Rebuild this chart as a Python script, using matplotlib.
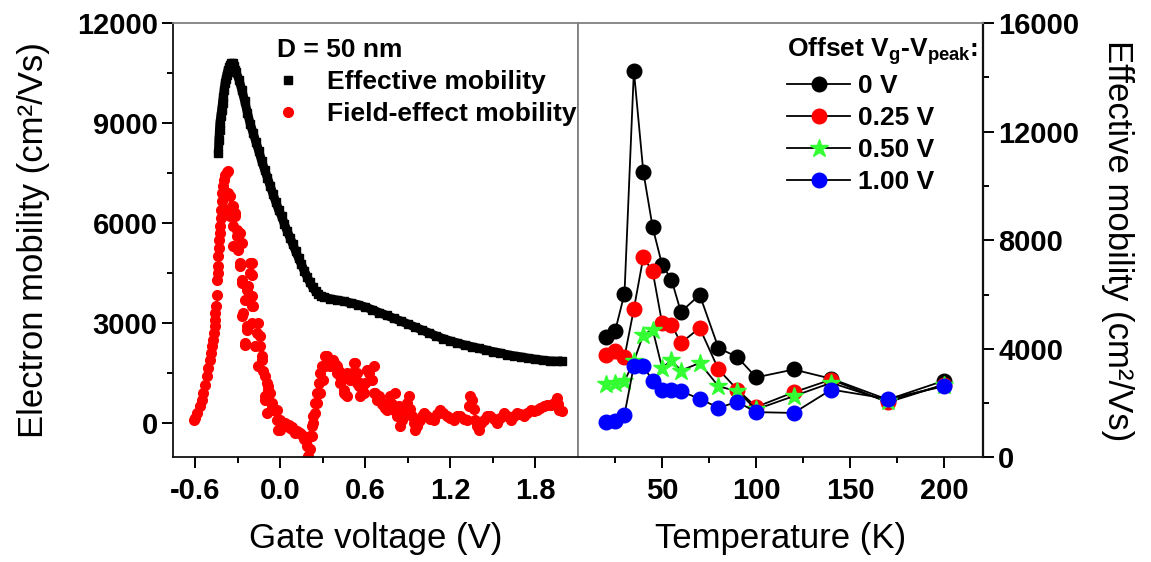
import numpy as np
import matplotlib
matplotlib.use("Agg")
import matplotlib.pyplot as plt
from matplotlib.ticker import FixedLocator

plt.rcParams['font.family'] = ['Liberation Sans', 'DejaVu Sans']
plt.rcParams['axes.unicode_minus'] = False

# left panel: mobility vs gate voltage (D = 50 nm)
eff_v = [-0.435, -0.431, -0.427, -0.424, -0.418, -0.412, -0.406, -0.400, -0.394, -0.388,
         -0.382, -0.376, -0.370, -0.365, -0.358, -0.350, -0.343, -0.336, -0.329, -0.322,
         -0.315, -0.31, -0.29, -0.27, -0.25, -0.23, -0.21, -0.19, -0.17, -0.15,
         -0.13, -0.11, -0.09, -0.07, -0.05, -0.03, -0.01, 0.01, 0.03, 0.05,
         0.07, 0.09, 0.11, 0.13, 0.15, 0.17, 0.19, 0.21, 0.23, 0.25,
         0.27, 0.29, 0.31, 0.35, 0.40, 0.45, 0.50, 0.55, 0.60, 0.65,
         0.70, 0.75, 0.80, 0.85, 0.90, 0.95, 1.00, 1.05, 1.10, 1.15,
         1.20, 1.25, 1.30, 1.35, 1.40, 1.45, 1.50, 1.55, 1.60, 1.65,
         1.70, 1.75, 1.80, 1.85, 1.90, 1.95, 1.99]
eff_mu = [8090, 8490, 8800, 8990, 9200, 9390, 9600, 9790, 10000, 10190,
          10320, 10450, 10550, 10600, 10680, 10740, 10790, 10760, 10790, 10720,
          10600, 10520, 10300, 9990, 9660, 9300, 8960, 8700, 8420, 8150,
          7860, 7600, 7360, 7110, 6860, 6620, 6380, 6200, 5960, 5750,
          5550, 5350, 5140, 4940, 4750, 4560, 4380, 4210, 4060, 3940,
          3860, 3800, 3770, 3720, 3680, 3640, 3590, 3540, 3470, 3390,
          3300, 3220, 3130, 3050, 2960, 2870, 2780, 2690, 2600, 2520,
          2450, 2390, 2330, 2280, 2230, 2180, 2130, 2090, 2040, 2000,
          1970, 1930, 1900, 1870, 1850, 1840, 1850]

fe_v = [-0.607, -0.600, -0.585, -0.565, -0.553, -0.541, -0.530, -0.518, -0.506, -0.494,
        -0.486, -0.478, -0.471, -0.464, -0.461, -0.459, -0.456, -0.454, -0.447, -0.443,
        -0.439, -0.435, -0.435, -0.431, -0.428, -0.426, -0.424, -0.420, -0.417, -0.412,
        -0.407, -0.400, -0.393, -0.385, -0.376, -0.370,
        -0.365, -0.353, -0.341, -0.376, -0.329, -0.318, -0.353, -0.318, -0.329, -0.306,
        -0.306, -0.282, -0.329, -0.294, -0.271, -0.282, -0.282, -0.200, -0.212, -0.212,
        -0.200, -0.271, -0.271, -0.224, -0.235, -0.247, -0.200, -0.200, -0.188, -0.259,
        -0.271, -0.200, -0.153, -0.235, -0.235, -0.165, -0.141, -0.247, -0.247, -0.141,
        -0.176, -0.129, -0.129, -0.153, -0.118, -0.106, -0.094, -0.082, -0.082, -0.106,
        -0.106, -0.071, -0.059, -0.059, -0.094, -0.047, -0.024, -0.024, -0.012, 0.0,
        0.0, 0.020, 0.035, 0.047, 0.060, 0.071, 0.083, 0.094, 0.106, 0.120,
        0.141, 0.153, 0.165, 0.176, 0.188, 0.188, 0.200, 0.212, 0.212, 0.224,
        0.224, 0.235, 0.235, 0.247, 0.247, 0.259, 0.259, 0.271, 0.278, 0.282,
        0.294, 0.301, 0.318, 0.318, 0.329, 0.341, 0.353, 0.365, 0.376, 0.388,
        0.400, 0.400, 0.412, 0.424, 0.424, 0.435, 0.447, 0.447, 0.459, 0.471,
        0.471, 0.482, 0.494, 0.506, 0.518, 0.529, 0.541, 0.541, 0.553, 0.565,
        0.565, 0.576, 0.588, 0.600, 0.612, 0.624, 0.635, 0.647, 0.659, 0.659,
        0.671, 0.682, 0.694, 0.706, 0.718, 0.729, 0.741, 0.753, 0.765, 0.776,
        0.788, 0.800, 0.812, 0.824, 0.835, 0.847, 0.859, 0.871, 0.882, 0.894,
        0.906, 0.918, 0.929, 0.941, 0.953, 0.965, 0.976, 0.988, 1.000, 1.012,
        1.035, 1.060, 1.082, 1.105, 1.129, 1.150, 1.176, 1.200, 1.224, 1.247,
        1.271, 1.295, 1.318, 1.330, 1.341, 1.353, 1.365, 1.376, 1.388, 1.400,
        1.418, 1.435, 1.459, 1.482, 1.505, 1.529, 1.552, 1.576, 1.600, 1.624,
        1.647, 1.671, 1.694, 1.718, 1.741, 1.765, 1.788, 1.812, 1.835, 1.859,
        1.882, 1.906, 1.930, 1.953, 1.960, 1.965, 1.988]
fe_mu = [90, 140, 280, 490, 690, 890, 1130, 1390, 1640, 1890,
         2090, 2290, 2490, 2690, 2890, 3090, 3290, 3490, 3840, 4290,
         4490, 4690, 4990, 5240, 5490, 5690, 5890, 6140, 6390, 6640,
         6890, 7090, 7290, 7450, 7540, 7560,
         6890, 6790, 6490, 6390, 6490, 6290, 6190, 6190, 5890, 5790,
         5590, 5690, 5290, 5190, 5390, 4690, 4790, 4790, 4790, 4490,
         4440, 4290, 4190, 4090, 3990, 3690, 3790, 3490, 3490, 3290,
         3190, 2990, 2990, 2890, 2790, 2690, 2590, 2390, 2340, 2290,
         2290, 1990, 1890, 1690, 1550, 1390, 1200, 1090, 990, 790,
         690, 890, 590, 490, 290, 390, 390, 90, -210, 90,
         -210, -100, -10, -110, -60, -160, -120, -210, -310, -250,
         -310, -380, -510, -450, -510, -710, -1010, -810, -410, -410,
         -110, -10, 190, 290, 590, 590, 890, 1190, 890, 1490,
         1690, 1290, 1690, 1990, 1990, 1840, 1700, 1790, 1890, 1750,
         1690, 1490, 1550, 1390, 1190, 1300, 990, 890, 850, 790,
         1490, 1400, 1290, 1500, 1790, 1790, 1190, 1490, 1100, 790,
         1190, 1000, 890, 1200, 1590, 1490, 1290, 1290, 890, 1690,
         890, 690, 800, 690, 550, 490, 450, 390, 600, 790,
         550, 390, 890, 190, 490, -110, 90, 190, 400, 600,
         790, 400, 190, 0, -210, -100, 50, 90, 200, 290,
         190, 120, 90, 250, 390, 300, 190, 150, 90, 200,
         190, 120, 90, 490, 790, 690, 400, 90, -100, -210,
         0, 90, 200, 190, 100, -10, 150, 290, 200, 90,
         200, 290, 250, 190, 300, 390, 350, 390, 450, 490,
         520, 540, 600, 740, 550, 390, 340]

# right panel: effective mobility vs temperature
temps = [20, 25, 30, 35, 40, 45, 50, 55, 60, 70, 80, 90, 100, 120, 140, 170, 200]
mu_0v = [4425, 4650, 6030, 14245, 10530, 8470, 7100, 6550, 5360, 5990,
         4030, 3700, 2950, 3240, 2900, 2130, 2830]
mu_025v = [3790, 3910, 3700, 5470, 7370, 6850, 4950, 4890, 4220, 4770,
           3240, 2500, 1860, 2400, 2870, 2030, 2680]
mu_050v = [2710, 2750, 2810, 3540, 4520, 4710, 3300, 3580, 3200, 3480,
           2620, 2440, 1770, 2260, 2750, 2070, 2680]
mu_100v = [1300, 1335, 1580, 3380, 3380, 2810, 2500, 2480, 2440, 2160,
           1830, 2050, 1670, 1640, 2500, 2160, 2620]

series = [
    ("0 V", mu_0v, "black", "o"),
    ("0.25 V", mu_025v, "#ff0000", "o"),
    ("0.50 V", mu_050v, "#33ff33", "*"),
    ("1.00 V", mu_100v, "#0000ff", "o"),
]

fig = plt.figure(figsize=(11.51, 5.62), dpi=100)
ax1 = fig.add_axes([0.1503, 0.186, 0.3519, 0.773])
ax2 = fig.add_axes([0.5022, 0.186, 0.3519, 0.773])

tick_font = dict(fontsize=21, fontweight="bold")
label_font = dict(fontsize=25)
leg_font = dict(size=19, weight="bold")

# ---- left
ax1.plot(eff_v, eff_mu, ls="-", lw=6.5, solid_capstyle="butt", marker="s", ms=6,
         color="black", mec="black", label="Effective mobility", zorder=3)
ax1.plot(fe_v, fe_mu, ls="none", marker="o", ms=7, color="#ff0000",
         mec="#ff0000", label="Field-effect mobility", zorder=2)
ax1.set_xlim(-0.755, 2.1)
ax1.set_ylim(-1050, 12000)
ax1.xaxis.set_major_locator(FixedLocator([-0.6, 0.0, 0.6, 1.2, 1.8]))
ax1.set_xticklabels(["-0.6", "0.0", "0.6", "1.2", "1.8"], **tick_font)
ax1.xaxis.set_minor_locator(FixedLocator([-0.3, 0.3, 0.9, 1.5]))
ax1.yaxis.set_major_locator(FixedLocator([0, 3000, 6000, 9000, 12000]))
ax1.set_yticklabels(["0", "3000", "6000", "9000", "12000"], **tick_font)
ax1.yaxis.set_minor_locator(FixedLocator([1500, 4500, 7500, 10500]))
ax1.set_xlabel("Gate voltage (V)", labelpad=12, **label_font)
ax1.set_ylabel("Electron mobility (cm²/Vs)", labelpad=19, **label_font)

h1, l1 = ax1.get_legend_handles_labels()
ax1.legend(h1, l1, loc="upper left", bbox_to_anchor=(0.212, 1.007),
           frameon=False, title="D = 50 nm", alignment="left", handlelength=0.8,
           handletextpad=1.1, borderpad=0.2, labelspacing=0.3, prop=leg_font,
           title_fontproperties=leg_font)
# legend square without the thick line
ax1.get_legend().legend_handles[0].set_linestyle("none")

# ---- right
for lab, vals, col, mk in series:
    ax2.plot(temps, vals, color="black", lw=1.3, marker=mk,
             ms=13.5 if mk == "*" else 10.5, mfc=col, mec=col, label=lab)
ax2.set_xlim(5.3, 220.7)
ax2.set_ylim(0, 16000)
ax2.yaxis.tick_right()
ax2.yaxis.set_label_position("right")
ax2.xaxis.set_major_locator(FixedLocator([50, 100, 150, 200]))
ax2.set_xticklabels(["50", "100", "150", "200"], **tick_font)
ax2.xaxis.set_minor_locator(FixedLocator([25, 75, 125, 175]))
ax2.yaxis.set_major_locator(FixedLocator([0, 4000, 8000, 12000, 16000]))
ax2.set_yticklabels(["0", "4000", "8000", "12000", "16000"], **tick_font)
ax2.yaxis.set_minor_locator(FixedLocator([2000, 6000, 10000, 14000]))
ax2.set_xlabel("Temperature (K)", labelpad=12, **label_font)
ax2.set_ylabel("Effective mobility (cm²/Vs)", rotation=270, labelpad=39, **label_font)

ax2.legend(loc="upper left", bbox_to_anchor=(0.47, 1.016), frameon=False,
           title="Offset V$_{\\mathregular{g}}$-V$_{\\mathregular{peak}}$:",
           alignment="left", handlelength=2.4, handletextpad=0.3,
           borderpad=0.2, labelspacing=0.3, prop=leg_font,
           title_fontproperties=leg_font)

for ax in (ax1, ax2):
    for side in ("top", "left", "right", "bottom"):
        ax.spines[side].set_color("#808080")
        ax.spines[side].set_linewidth(1.3)
    ax.spines["bottom"].set_color("#111111")
    ax.tick_params(which="major", direction="out", length=8, width=1.4,
                   pad=3, colors="black")
    ax.tick_params(which="minor", direction="out", length=4.5, width=1.4,
                   colors="black")
    ax.tick_params(axis="x", which="major", pad=6)
ax1.spines["left"].set_color("#111111")
ax1.tick_params(axis="y", which="both", left=True, right=False)
ax2.tick_params(axis="y", which="both", left=False, right=True)
ax2.spines["right"].set_color("#111111")
ax2.spines["right"].set_linewidth(1.6)

fig.savefig("out.png", dpi=100)
